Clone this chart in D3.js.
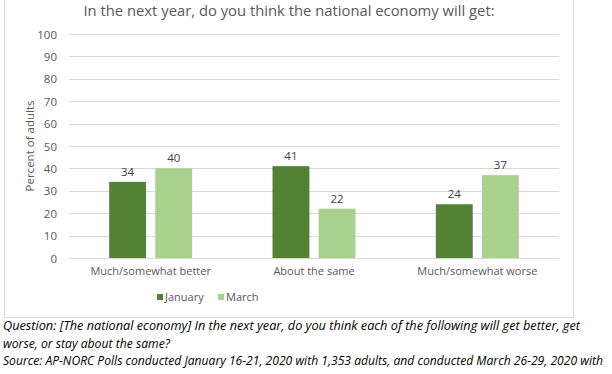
<!DOCTYPE html>
<html><head><meta charset="utf-8">
<script src="https://cdn.jsdelivr.net/npm/d3@7"></script>
<style>body{margin:0;background:#fff;}svg{display:block;}</style>
</head><body>
<svg id="c" width="612" height="374"></svg>
<script>
const categories = ["Much/somewhat better", "About the same", "Much/somewhat worse"];
const seriesNames = ["January", "March"];
const january = [34, 41, 24];
const march = [40, 22, 37];
const yTicks = [0, 10, 20, 30, 40, 50, 60, 70, 80, 90, 100];
const colors = ["#548235", "#A9D18E"];

const svg = d3.select("#c");
const font = "Open Sans, Liberation Sans, sans-serif";
const textCol = "#595959";

// chart border
svg.append("rect").attr("x", 4.5).attr("y", -1).attr("width", 569).attr("height", 318.5)
  .attr("fill", "none").attr("stroke", "#d9d9d9").attr("stroke-width", 1);

const x0 = d3.scaleBand().domain(categories).range([69, 559]).paddingInner(0).paddingOuter(0);
const x1 = d3.scaleBand().domain(seriesNames).range([0, 83]).paddingInner(0.2).paddingOuter(0);
const y = d3.scaleLinear().domain([0, 100]).range([258, 34]);

// gridlines
svg.append("g").selectAll("line").data(yTicks).join("line")
  .attr("x1", 69).attr("x2", 559)
  .attr("y1", d => Math.round(y(d)) + 0.5).attr("y2", d => Math.round(y(d)) + 0.5)
  .attr("stroke", "#d9d9d9").attr("stroke-width", 1);

// y axis labels
const yAxis = d3.axisLeft(y).tickValues(yTicks).tickSize(0).tickPadding(0);
const yg = svg.append("g").attr("transform", "translate(57,0)").call(yAxis);
yg.select(".domain").remove();
yg.selectAll("text").attr("font-family", font).attr("font-size", 11.5).attr("fill", textCol).attr("dy", "0.35em");

// x axis labels
const xAxis = d3.axisBottom(x0).tickSize(0).tickPadding(0);
const xg = svg.append("g").attr("transform", "translate(0,267)").call(xAxis);
xg.select(".domain").remove();
xg.selectAll("text").attr("font-family", font).attr("font-size", 11).attr("fill", textCol).attr("dy", "0.71em");

// bars
const data = categories.map((c, i) => ({cat: c, vals: [{s: "January", v: january[i]}, {s: "March", v: march[i]}]}));
const groups = svg.append("g").selectAll("g").data(data).join("g")
  .attr("transform", d => `translate(${x0(d.cat) + (x0.bandwidth() - 83) / 2},0)`);
groups.selectAll("rect").data(d => d.vals).join("rect")
  .attr("x", d => x1(d.s)).attr("width", x1.bandwidth())
  .attr("y", d => y(d.v)).attr("height", d => y(0) - y(d.v))
  .attr("fill", (d, i) => colors[i]);
groups.selectAll("text").data(d => d.vals).join("text")
  .attr("x", d => x1(d.s) + x1.bandwidth() / 2).attr("y", d => y(d.v) - 6)
  .attr("text-anchor", "middle").attr("font-family", font).attr("font-size", 11.5).attr("fill", "#404040")
  .text(d => d.v);

// y title
svg.append("text").attr("transform", "translate(34,146) rotate(-90)")
  .attr("text-anchor", "middle").attr("font-family", font).attr("font-size", 11.5).attr("fill", textCol)
  .text("Percent of adults");

// title
svg.append("text").attr("x", 289).attr("y", 16).attr("text-anchor", "middle")
  .attr("font-family", font).attr("font-size", 14.8).attr("fill", textCol)
  .text("In the next year, do you think the national economy will get:");

// legend
const leg = svg.append("g");
const legX = [157, 218];
seriesNames.forEach((s, i) => {
  leg.append("rect").attr("x", legX[i]).attr("y", 294).attr("width", 6).attr("height", 6).attr("fill", colors[i]);
  leg.append("text").attr("x", legX[i] + 8).attr("y", 297).attr("dy", "0.35em")
    .attr("font-family", font).attr("font-size", 11).attr("fill", textCol).text(s);
});

// caption
const cap = [
  "Question: [The national economy] In the next year, do you think each of the following will get better, get",
  "worse, or stay about the same?",
  "Source: AP-NORC Polls conducted January 16-21, 2020 with 1,353 adults, and conducted March 26-29, 2020 with"
];
const capLen = [577, null, 600];
svg.append("g").selectAll("text").data(cap).join("text")
  .attr("x", 3).attr("y", (d, i) => 330 + i * 17.5)
  .attr("font-family", font).attr("font-size", 12.2).attr("font-style", "italic").attr("fill", "#000")
  .each(function(d, i) {
    if (capLen[i]) d3.select(this).attr("textLength", capLen[i]).attr("lengthAdjust", "spacingAndGlyphs");
  })
  .text(d => d);
</script>
</body></html>
